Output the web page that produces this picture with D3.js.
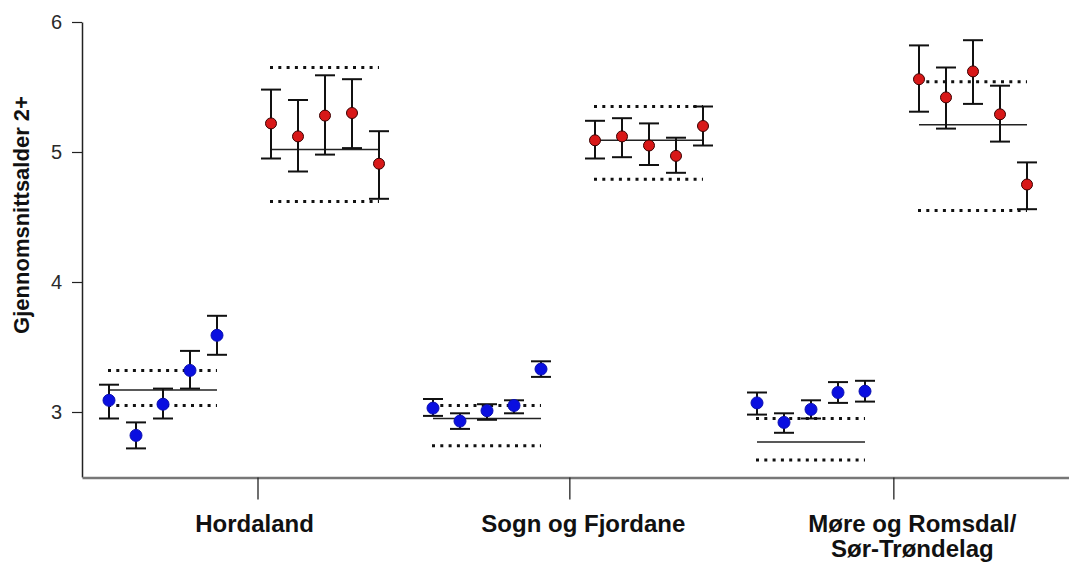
<!DOCTYPE html>
<html><head><meta charset="utf-8">
<script src="https://cdn.jsdelivr.net/npm/d3@7/dist/d3.min.js"></script>
<style>body{margin:0;background:#fff}svg{display:block}</style>
</head><body><svg id="c" width="1069" height="563"></svg>
<script>
// ---- data ----
const regions = ["Hordaland", "Sogn og Fjordane", "Møre og Romsdal/\nSør-Trøndelag"];
const yTicks = [3, 4, 5, 6];
const yLabel = "Gjennomsnittsalder 2+";

const blueMean = [[3.09, 2.82, 3.06, 3.32, 3.59], [3.03, 2.93, 3.01, 3.05, 3.33], [3.07, 2.92, 3.02, 3.15, 3.16]];
const blueLow  = [[2.95, 2.72, 2.95, 3.18, 3.44], [2.97, 2.87, 2.94, 2.99, 3.27], [2.98, 2.84, 2.95, 3.07, 3.08]];
const blueHigh = [[3.21, 2.92, 3.18, 3.47, 3.74], [3.10, 2.99, 3.06, 3.09, 3.39], [3.15, 2.99, 3.09, 3.23, 3.24]];

const redMean = [[5.22, 5.12, 5.28, 5.30, 4.91], [5.09, 5.12, 5.05, 4.97, 5.20], [5.56, 5.42, 5.62, 5.29, 4.75]];
const redLow  = [[4.95, 4.85, 4.98, 5.03, 4.64], [4.95, 4.96, 4.90, 4.84, 5.05], [5.31, 5.18, 5.37, 5.08, 4.56]];
const redHigh = [[5.48, 5.40, 5.59, 5.56, 5.16], [5.24, 5.26, 5.22, 5.11, 5.35], [5.82, 5.65, 5.86, 5.51, 4.92]];

const blueRefMean  = [3.17, 2.95, 2.77];
const blueRefUpper = [3.32, 3.05, 2.95];
const blueRefLower = [3.05, 2.74, 2.63];
const redRefMean   = [5.02, 5.09, 5.21];
const redRefUpper  = [5.65, 5.35, 5.54];
const redRefLower  = [4.62, 4.79, 4.55];

// ---- layout ----
const slotsPerRegion = 12, redOffset = 6, nPts = 5;
const x = d3.scaleLinear().domain([0, 34]).range([109, 1027]);
const y = d3.scaleLinear().domain([2.5, 6]).range([477, 22]);
const tickSlot = [5.5, 17.05, 29.05];
const labelDx = [-3, 14, 19];

const svg = d3.select("#c");
const font = "'Liberation Sans', Arial, sans-serif";

// y axis
const gy = svg.append("g").attr("transform", "translate(82,0)")
  .call(d3.axisLeft(y).tickValues(yTicks).tickSize(10).tickSizeOuter(0).tickPadding(10).tickFormat(d3.format("d")));
gy.select(".domain").attr("stroke", "#222").attr("stroke-width", 1.5);
gy.selectAll(".tick line").attr("stroke", "#222").attr("stroke-width", 1.2);
gy.selectAll(".tick text").attr("font-family", font).attr("font-size", 20).attr("fill", "#2a2a2a");

// x axis
const xa = x.copy().domain([x.invert(82), x.invert(1069)]).range([82, 1069]);
const gx = svg.append("g").attr("transform", "translate(0,477.5)")
  .call(d3.axisBottom(xa).tickValues(tickSlot).tickSize(22).tickSizeOuter(0).tickFormat(""));
gx.select(".domain").attr("stroke", "#777").attr("stroke-width", 2.5);
gx.selectAll(".tick line").attr("stroke", "#222").attr("stroke-width", 1.3);

// x labels
regions.forEach((r, g) => {
  const cx = xa(tickSlot[g]) + labelDx[g];
  const t = svg.append("text")
    .attr("x", cx).attr("y", 532)
    .attr("text-anchor", "middle").attr("font-family", font)
    .attr("font-weight", "bold").attr("font-size", 24).attr("fill", "#111");
  r.split("\n").forEach((line, i) => {
    t.append("tspan").attr("x", cx).attr("dy", i === 0 ? 0 : 25).text(line);
  });
});

// y label
svg.append("text").attr("transform", "translate(29,215) rotate(-90)")
  .attr("text-anchor", "middle").attr("font-family", font).attr("font-weight", "bold")
  .attr("font-size", 22).attr("fill", "#111").text(yLabel);

const plot = svg.append("g");

function refLines(first, mean, upper, lower) {
  const x1 = x(first), x2 = x(first + nPts - 1);
  plot.append("line").attr("x1", x1).attr("x2", x2).attr("y1", y(mean)).attr("y2", y(mean))
    .attr("stroke", "#222").attr("stroke-width", 1.5);
  [upper, lower].forEach(v => {
    plot.append("line").attr("x1", x1 - 1).attr("x2", x2).attr("y1", y(v)).attr("y2", y(v))
      .attr("stroke", "#111").attr("stroke-width", 3).attr("stroke-dasharray", "3 5.3");
  });
}

function series(first, mean, low, high, fill, stroke, r) {
  const data = mean.map((m, i) => ({ s: first + i, m, lo: low[i], hi: high[i] }));
  const eb = plot.append("g").attr("stroke", "#111").attr("stroke-width", 2);
  data.forEach(d => {
    eb.append("line").attr("x1", x(d.s)).attr("x2", x(d.s)).attr("y1", y(d.lo)).attr("y2", y(d.hi));
    [d.lo, d.hi].forEach(v => eb.append("line").attr("x1", x(d.s) - 10).attr("x2", x(d.s) + 10)
      .attr("y1", y(v)).attr("y2", y(v)));
  });
  plot.append("g").selectAll("circle").data(data).join("circle")
    .attr("cx", d => x(d.s)).attr("cy", d => y(d.m)).attr("r", r)
    .attr("fill", fill).attr("stroke", stroke).attr("stroke-width", 1);
}

regions.forEach((r, g) => {
  const b0 = g * slotsPerRegion, r0 = b0 + redOffset;
  refLines(b0, blueRefMean[g], blueRefUpper[g], blueRefLower[g]);
  refLines(r0, redRefMean[g], redRefUpper[g], redRefLower[g]);
  series(b0, blueMean[g], blueLow[g], blueHigh[g], "#0a0fe0", "#0a0fb0", 6);
  series(r0, redMean[g], redLow[g], redHigh[g], "#d81818", "#3a0000", 5.5);
});
</script>
</body></html>
